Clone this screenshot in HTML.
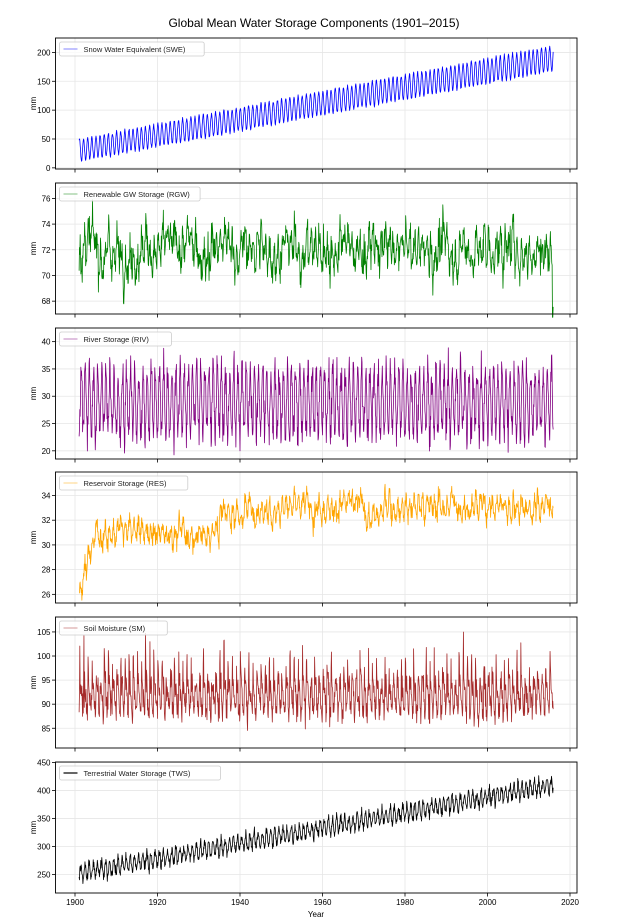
<!DOCTYPE html>
<html><head><meta charset="utf-8">
<style>
html,body{margin:0;padding:0;background:#fff;}
svg{display:block;font-family:"Liberation Sans","DejaVu Sans",sans-serif;}
</style></head>
<body>
<svg id="c" width="642" height="922" viewBox="0 0 642 922" xmlns="http://www.w3.org/2000/svg">
<text x="314" y="27" font-size="12" text-anchor="middle" fill="#000">Global Mean Water Storage Components (1901–2015)</text>
</svg>
<script>
(function(){
var svg=document.getElementById('c'),NS='http://www.w3.org/2000/svg';
function el(t,a,txt){var e=document.createElementNS(NS,t);for(var k in a)e.setAttribute(k,a[k]);if(txt!=null)e.textContent=txt;svg.appendChild(e);return e;}
var seed=12345;function rnd(){seed=(seed*1103515245+12345)%2147483648;return seed/2147483648;}
function gauss(){return (rnd()+rnd()+rnd()+rnd()-2)*1.7;}
var L=55.5,R=577,H=131,tops=[38,183,328,472,617,762];
function X(yr){return 75+(yr-1900)*4.125;}
var N=1380;
var panels=[
 {name:'Snow Water Equivalent (SWE)',col:'#0000ff',lo:-2,hi:225,ticks:[0,50,100,150,200],
  f:function(i,t,m){var base=30+160*t;var s=Math.cos(2*Math.PI*(m-1)/12);return base+(19+3*t)*s+gauss()*1.5;}},
 {name:'Renewable GW Storage (RGW)',col:'#008000',lo:67.0,hi:77.2,ticks:[68,70,72,74,76],st:0,
  f:function(i,t,m){this.st=this.st*0.9+gauss()*0.35;return 72+this.st+0.9*Math.sin(2*Math.PI*m/12)+gauss()*0.6-(i>1376?2.5:0);}},
 {name:'River Storage (RIV)',col:'#800080',lo:18.5,hi:42.5,ticks:[20,25,30,35,40],
  f:function(i,t,m){var s=Math.sin(2*Math.PI*(m-3)/12);return 29+5.8*s+gauss()*1.7;}},
 {name:'Reservoir Storage (RES)',col:'#ffa500',lo:25.3,hi:35.9,ticks:[26,28,30,32,34],st:0,
  f:function(i,t,m){var y=1901+i/12;var b;if(y<1905)b=26+(y-1901)*1.3;else if(y<1935)b=31;else if(y<1955)b=32.5+(y-1935)*0.04;else b=33.2;
   if(y>1970&&y<1975)b-=0.8;this.st=this.st*0.85+gauss()*0.25;return b+this.st+0.6*Math.sin(2*Math.PI*m/12)+gauss()*0.35;}},
 {name:'Soil Moisture (SM)',col:'#a52a2a',lo:80.9,hi:108.1,ticks:[85,90,95,100,105],
  f:function(i,t,m){var s=Math.sin(2*Math.PI*(m-1)/12);var v=91.5+3*s+gauss()*1.6;if(m==1||m==2)v+=rnd()*9;return v;}},
 {name:'Terrestrial Water Storage (TWS)',col:'#000000',lo:217,hi:451,ticks:[250,300,350,400,450],
  f:function(i,t,m){var base=252+158*t;var s=Math.sin(2*Math.PI*(m-2)/12);return base+13*s+gauss()*5;}}
];
panels.forEach(function(p,k){
 var T=tops[k],B=T+H;
 function Y(v){return B-(v-p.lo)/(p.hi-p.lo)*H;}
 for(var yr=1900;yr<=2020;yr+=20){el('line',{x1:X(yr),x2:X(yr),y1:T,y2:B,stroke:'#e6e6e6','stroke-width':0.8});}
 p.ticks.forEach(function(v){el('line',{x1:L,x2:R,y1:Y(v),y2:Y(v),stroke:'#e6e6e6','stroke-width':0.8});
   el('line',{x1:L-3.5,x2:L,y1:Y(v),y2:Y(v),stroke:'#000','stroke-width':0.8});
   el('text',{x:L-5,y:Y(v)+3,'font-size':8,'text-anchor':'end',fill:'#000'},String(v));});
 for(var yr=1900;yr<=2020;yr+=20)el('line',{x1:X(yr),x2:X(yr),y1:B,y2:B+3.5,stroke:'#000','stroke-width':0.8});
 var d='';
 for(var i=0;i<N;i++){var t=i/(N-1),m=i%12;var v=p.f(i,t,m);var x=X(1901+i/12);d+=(i?'L':'M')+x.toFixed(2)+' '+Y(v).toFixed(2);}
 el('path',{d:d,fill:'none',stroke:p.col,'stroke-width':0.8,'stroke-linejoin':'round'});
 el('rect',{x:L,y:T,width:R-L,height:H,fill:'none',stroke:'#000','stroke-width':0.9});
 el('text',{x:0,y:0,'font-size':8,'text-anchor':'middle',transform:'translate(36,'+(T+H/2)+') rotate(-90)'},'mm');
 var w=p.name.length*4.1+34;
 el('rect',{x:L+4,y:T+4,width:w,height:14,rx:2,fill:'#fff','fill-opacity':0.8,stroke:'#ccc','stroke-width':0.8});
 el('line',{x1:L+8,x2:L+22,y1:T+11,y2:T+11,stroke:p.col,'stroke-width':1.2,'stroke-opacity':k==5?1:0.4});
 el('text',{x:L+28,y:T+14,'font-size':7.5,fill:'#222'},p.name);
});
for(var yr=1900;yr<=2020;yr+=20)el('text',{x:X(yr),y:905,'font-size':8,'text-anchor':'middle'},String(yr));
el('text',{x:316,y:917,'font-size':8,'text-anchor':'middle'},'Year');
})();
</script>
</body></html>
